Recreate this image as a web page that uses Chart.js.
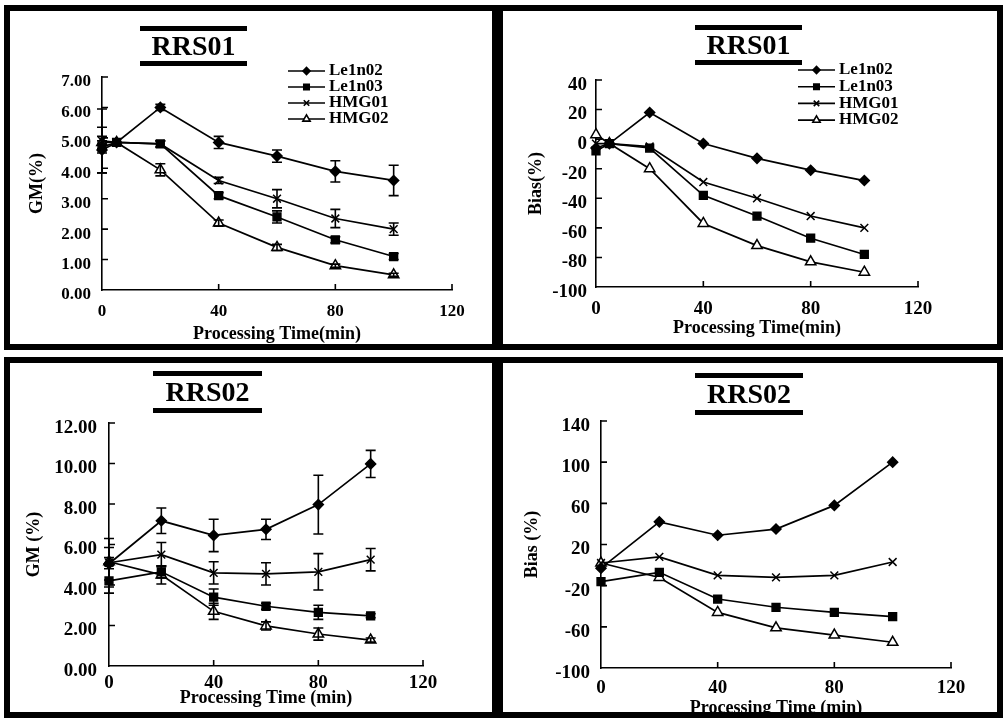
<!DOCTYPE html>
<html>
<head>
<meta charset="utf-8">
<script src="https://cdn.jsdelivr.net/npm/chart.js@4.4.1/dist/chart.umd.min.js"></script>
<style>
  body { margin: 0; width: 1003px; height: 718px; position: relative; overflow: hidden; background: #fff; }
  .panel { position: absolute; box-sizing: border-box; border: 6px solid #000; overflow: hidden; background: #fff; }
  .panel canvas { position: absolute; left: 0; top: 0; }
  .ttl { position: absolute; box-sizing: border-box; border-top: 5px solid #000; border-bottom: 5px solid #000;
         font: bold 28px 'Liberation Serif', 'Times New Roman', serif; color: #000; text-align: center; }
</style>
</head>
<body>
<div class="panel" style="left:4px;top:5px;width:494px;height:345px"><canvas id="c1" width="482" height="343"></canvas></div>
<div class="panel" style="left:497px;top:5px;width:506px;height:345px"><canvas id="c2" width="494" height="343"></canvas></div>
<div class="panel" style="left:4px;top:357px;width:494px;height:361px"><canvas id="c3" width="482" height="359"></canvas></div>
<div class="panel" style="left:497px;top:357px;width:506px;height:361px"><canvas id="c4" width="494" height="359"></canvas></div>

<div class="ttl" style="left:140px;top:26px;width:107px;height:40px;line-height:30px">RRS01</div>
<div class="ttl" style="left:695px;top:25px;width:107px;height:40px;line-height:30px">RRS01</div>
<div class="ttl" style="left:153px;top:371px;width:109px;height:42px;line-height:32px">RRS02</div>
<div class="ttl" style="left:695px;top:373px;width:108px;height:42px;line-height:32px">RRS02</div>

<script>
(function () {
    const FONT = "'Liberation Serif', 'Times New Roman', serif";

    const seriesNames = ['Le1n02', 'Le1n03', 'HMG01', 'HMG02'];
    const timesRRS01 = [0, 5, 20, 40, 60, 80, 100];
    const timesRRS02 = [0, 20, 40, 60, 80, 100];

    // RRS01, GM (%)
    const gm01Le1n02 = [4.6, 4.85, 6.0, 4.85, 4.4, 3.9, 3.6];
    const gm01Le1n03 = [4.7, 4.85, 4.8, 3.1, 2.4, 1.65, 1.1];
    const gm01HMG01 = [4.9, 4.85, 4.8, 3.6, 3.0, 2.35, 2.0];
    const gm01HMG02 = [4.85, 4.85, 3.95, 2.2, 1.4, 0.8, 0.5];
    const gm01ErrLe1n02 = [0.75, 0, 0.1, 0.2, 0.2, 0.35, 0.5];
    const gm01ErrLe1n03 = [0.2, 0, 0.1, 0.1, 0.2, 0.1, 0.1];
    const gm01ErrHMG01 = [1.05, 0, 0.1, 0.1, 0.3, 0.3, 0.2];
    const gm01ErrHMG02 = [0.2, 0, 0.2, 0.1, 0.1, 0.05, 0.05];

    // RRS01, Bias (%)
    const bias01Le1n02 = [-6, -3, 18, -3, -13, -21, -28];
    const bias01Le1n03 = [-8, -3, -6, -38, -52, -67, -78];
    const bias01HMG01 = [-3, -3, -5, -29, -40, -52, -60];
    const bias01HMG02 = [3, -3, -20, -57, -72, -83, -90];

    // RRS02, GM (%)
    const gm02Le1n02 = [5.05, 7.17, 6.45, 6.75, 7.97, 9.98];
    const gm02Le1n03 = [4.2, 4.65, 3.4, 2.95, 2.65, 2.48];
    const gm02HMG01 = [5.1, 5.5, 4.6, 4.55, 4.65, 5.25];
    const gm02HMG02 = [5.15, 4.5, 2.7, 1.98, 1.58, 1.28];
    const gm02ErrLe1n02 = [0.8, 0.63, 0.8, 0.5, 1.45, 0.67];
    const gm02ErrLe1n03 = [0.6, 0.3, 0.4, 0.15, 0.35, 0.1];
    const gm02ErrHMG01 = [1.2, 0.6, 0.55, 0.55, 0.9, 0.55];
    const gm02ErrHMG02 = [0.2, 0.45, 0.4, 0.2, 0.3, 0.1];

    // RRS02, Bias (%)
    const bias02Le1n02 = [-3, 42, 29, 35, 58, 100];
    const bias02Le1n03 = [-16, -7, -33, -41, -46, -50];
    const bias02HMG01 = [2, 8, -10, -12, -10, 3];
    const bias02HMG02 = [2, -12, -46, -61, -68, -75];

    const markerStyles = [
        { pointStyle: 'rectRot', pointRadius: 5, pointBackgroundColor: '#000' },
        { pointStyle: 'rect', pointRadius: 5.5, pointBackgroundColor: '#000' },
        { pointStyle: 'crossRot', pointRadius: 5.5, pointBackgroundColor: '#000' },
        { pointStyle: 'triangle', pointRadius: 6, pointBackgroundColor: '#fff' },
    ];

    const insideTicks = {
        id: 'insideTicks',
        afterDraw(chart) {
            const { ctx, scales: { x, y } } = chart;
            ctx.save();
            ctx.strokeStyle = '#000';
            ctx.lineWidth = 1.6;
            ctx.beginPath();
            x.ticks.forEach(t => {
                if (t.value === x.min) return;
                const px = x.getPixelForValue(t.value);
                ctx.moveTo(px, x.top);
                ctx.lineTo(px, x.top - 6);
            });
            y.ticks.forEach(t => {
                if (t.value === y.min) return;
                const py = y.getPixelForValue(t.value);
                ctx.moveTo(y.right, py);
                ctx.lineTo(y.right + 6, py);
            });
            ctx.stroke();
            ctx.restore();
        }
    };

    const errorBars = {
        id: 'errorBars',
        afterDatasetsDraw(chart) {
            const { ctx, scales: { x, y } } = chart;
            ctx.save();
            ctx.strokeStyle = '#000';
            ctx.lineWidth = 1.6;
            chart.data.datasets.forEach(ds => {
                if (!ds.errors) return;
                ds.data.forEach((p, i) => {
                    const e = ds.errors[i];
                    if (!e) return;
                    const px = x.getPixelForValue(p.x);
                    const top = y.getPixelForValue(p.y + e);
                    const bot = y.getPixelForValue(p.y - e);
                    ctx.beginPath();
                    ctx.moveTo(px, top); ctx.lineTo(px, bot);
                    ctx.moveTo(px - 5, top); ctx.lineTo(px + 5, top);
                    ctx.moveTo(px - 5, bot); ctx.lineTo(px + 5, bot);
                    ctx.stroke();
                });
            });
            ctx.restore();
        }
    };

    const lineLegend = {
        id: 'lineLegend',
        afterDraw(chart, args, opts) {
            if (!opts || !opts.display) return;
            const ctx = chart.ctx;
            ctx.save();
            chart.data.datasets.forEach((ds, i) => {
                const yy = opts.y + i * opts.dy;
                const mx = opts.x + opts.len / 2;
                ctx.strokeStyle = '#000';
                ctx.lineWidth = 1.6;
                ctx.beginPath();
                ctx.moveTo(opts.x, yy);
                ctx.lineTo(opts.x + opts.len, yy);
                ctx.stroke();
                ctx.fillStyle = ds.pointBackgroundColor;
                Chart.helpers.drawPoint(ctx, {
                    pointStyle: ds.pointStyle, radius: ds.pointRadius * 0.7, borderWidth: 1.5, rotation: 0
                }, mx, yy);
                ctx.fillStyle = '#000';
                ctx.font = 'bold ' + opts.size + 'px ' + FONT;
                ctx.textBaseline = 'middle';
                ctx.textAlign = 'left';
                ctx.fillText(ds.label, opts.x + opts.len + 4, yy);
            });
            ctx.restore();
        }
    };

    function makeDatasets(times, values, errors) {
        return values.map((vals, i) => Object.assign({
            label: seriesNames[i],
            data: vals.map((v, j) => ({ x: times[j], y: v })),
            errors: errors ? errors[i] : null,
            borderColor: '#000',
            borderWidth: 1.7,
            pointBorderColor: '#000',
            pointBorderWidth: 1.5,
            tension: 0,
            clip: false,
        }, markerStyles[i]));
    }

    const panels = [
        {
            id: 'c1', times: timesRRS01,
            values: [gm01Le1n02, gm01Le1n03, gm01HMG01, gm01HMG02],
            errors: [gm01ErrLe1n02, gm01ErrLe1n03, gm01ErrHMG01, gm01ErrHMG02],
            yMin: 0, yMax: 7, yStep: 1, dec: 2, yTitle: 'GM(%)', xTitle: 'Processing Time(min)',
            padTop: 66, padRight: 40, yW: 92, xH: 64, yTitlePad: 17, xTitlePad: 9,
            tick: 17, xTickPad: 11, yTickPad: 11,
            legend: { display: true, x: 278, y: 60, dy: 16, len: 37, size: 17 },
        },
        {
            id: 'c2', times: timesRRS01,
            values: [bias01Le1n02, bias01Le1n03, bias01HMG01, bias01HMG02],
            errors: null,
            yMin: -100, yMax: 40, yStep: 20, dec: 0, yTitle: 'Bias(%)', xTitle: 'Processing Time(min)',
            padTop: 69, padRight: 79, yW: 93, xH: 67, yTitlePad: 23, xTitlePad: 15,
            tick: 19, xTickPad: 11, yTickPad: 9,
            legend: { display: true, x: 295, y: 59, dy: 16.7, len: 37, size: 17 },
        },
        {
            id: 'c3', times: timesRRS02,
            values: [gm02Le1n02, gm02Le1n03, gm02HMG01, gm02HMG02],
            errors: [gm02ErrLe1n02, gm02ErrLe1n03, gm02ErrHMG01, gm02ErrHMG02],
            yMin: 0, yMax: 12, yStep: 2, dec: 2, yTitle: 'GM (%)', xTitle: 'Processing Time (min)',
            padTop: 60, padRight: 69, yW: 99, xH: 56, yTitlePad: 14, xTitlePad: 13,
            tick: 19, xTickPad: 6, yTickPad: 12,
            legend: { display: false },
        },
        {
            id: 'c4', times: timesRRS02,
            values: [bias02Le1n02, bias02Le1n03, bias02HMG01, bias02HMG02],
            errors: null,
            yMin: -100, yMax: 140, yStep: 40, dec: 0, yTitle: 'Bias (%)', xTitle: 'Processing Time (min)',
            padTop: 58, padRight: 46, yW: 98, xH: 54, yTitlePad: 19, xTitlePad: 3,
            tick: 19, xTickPad: 9, yTickPad: 11,
            legend: { display: false },
        },
    ];

    panels.forEach(p => {
        const tickFont = { family: FONT, size: p.tick, weight: 'bold' };
        const titleFont = { family: FONT, size: 18, weight: 'bold' };
        new Chart(document.getElementById(p.id), {
            type: 'line',
            data: { datasets: makeDatasets(p.times, p.values, p.errors) },
            options: {
                responsive: false,
                animation: false,
                layout: { padding: { left: 0, top: p.padTop, right: p.padRight, bottom: 0 } },
                scales: {
                    x: {
                        type: 'linear', min: 0, max: 120,
                        grid: { display: false, drawTicks: false },
                        border: { display: true, color: '#000', width: 1.6 },
                        ticks: { stepSize: 40, color: '#000', font: tickFont, padding: p.xTickPad, maxRotation: 0 },
                        title: { display: true, text: p.xTitle, color: '#000', font: titleFont, padding: { top: 0, bottom: p.xTitlePad } },
                        afterFit: s => { s.height = p.xH; },
                    },
                    y: {
                        type: 'linear', min: p.yMin, max: p.yMax,
                        grid: { display: false, drawTicks: false },
                        border: { display: true, color: '#000', width: 1.6 },
                        ticks: {
                            stepSize: p.yStep, color: '#000', font: tickFont, padding: p.yTickPad, labelOffset: 5,
                            callback: v => Number(v).toFixed(p.dec),
                        },
                        title: { display: true, text: p.yTitle, color: '#000', font: titleFont, padding: { top: p.yTitlePad, bottom: 0 } },
                        afterFit: s => { s.width = p.yW; },
                    },
                },
                plugins: {
                    legend: { display: false },
                    tooltip: { enabled: false },
                    lineLegend: p.legend,
                },
            },
            plugins: [insideTicks, errorBars, lineLegend],
        });
    });
})();
</script>
</body>
</html>
